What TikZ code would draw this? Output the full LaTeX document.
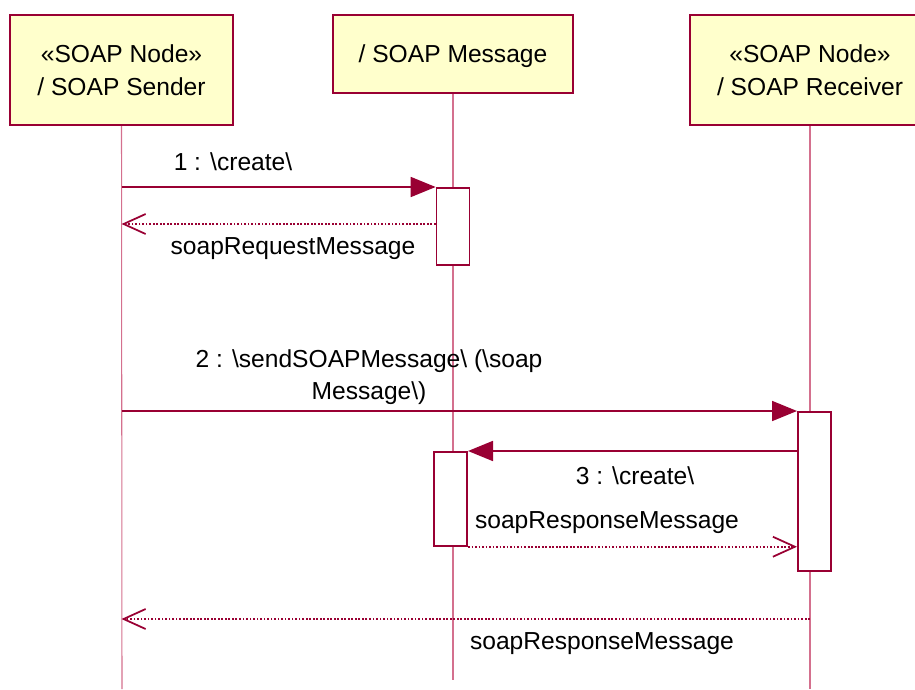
\documentclass[tikz,border=0pt]{standalone}
\usepackage{fontspec}
\setmainfont{Liberation Sans}
\usepackage{tikz}
\usetikzlibrary{arrows.meta,positioning}
\definecolor{umlred}{HTML}{990033}
\definecolor{umlfill}{HTML}{FFFFCC}
\definecolor{lifepink}{HTML}{D4708E}
\tikzset{
  objbox/.style={draw=umlred, line width=1.2pt, fill=umlfill, align=center,
                 font=\fontsize{14}{19}\selectfont, inner sep=0pt},
  actbox/.style={draw=umlred, line width=1pt, fill=white, minimum width=0.66cm, inner sep=0pt},
  lifeline/.style={draw=lifepink, line width=0.6pt},
  callmsg/.style={draw=umlred, line width=1pt, -{Triangle[length=0.5cm,width=0.4cm]}},
  retmsg/.style={draw=umlred, line width=1pt, dash pattern=on 1pt off 1pt,
                 -{Straight Barb[length=0.44cm,width=0.4cm]}},
  msglabel/.style={font=\fontsize{14}{18}\selectfont, align=center},
}

\begin{document}
\begin{tikzpicture}[x=0.02cm, y=-0.02cm]
    \useasboundingbox (0,0) rectangle (915,689);
    \node[objbox, minimum width=4.46cm, minimum height=2.2cm] (sender) at (121.5,70) {«SOAP Node»\\/ SOAP Sender};
    \node[objbox, minimum width=4.8cm, minimum height=1.56cm, text depth=0pt] (msg) at (453,54) {/ SOAP Message};
    \node[objbox, minimum width=4.8cm, minimum height=2.2cm] (recv) at (810,70) {«SOAP Node»\\/ SOAP Receiver};
    \coordinate (senderend) at (122,689);
    \coordinate (msgend) at (453,680);
    \coordinate (recvend) at (810,689);
    \foreach \n in {sender,msg,recv} { \draw[lifeline] (\n.south) -- (\n end); }
    \node[actbox, minimum height=1.54cm, anchor=north] (act1) at (msg.south |- 0,187) {};
    \node[actbox, minimum height=3.18cm, anchor=north west] (act2) at (797,411) {};
    \node[actbox, minimum height=1.88cm, anchor=north east] (act3) at (468,451) {};
    % create the request message
    \draw[callmsg] (sender.south |- act1.north) -- (act1.north west);
    \node[msglabel] (l1) at (233,162) {1 : \textbackslash create\textbackslash};
    \draw[retmsg] (act1.west |- 0,224) -- (sender.south |- 0,224);
    \node[msglabel] (l1r) at (293,249) {soapRequestMessage};
    % send it to the receiver
    \draw[callmsg] (sender.south |- act2.north) -- (act2.north west);
    \node[msglabel] (l2) at (369,377) {2 : \textbackslash sendSOAPMessage\textbackslash{} (\textbackslash soap\\Message\textbackslash)};
    \draw[callmsg] (act2.west |- act3.north) -- (act3.north east);
    \node[msglabel] (l3) at (635,476) {3 : \textbackslash create\textbackslash};
    \draw[retmsg] (act3.south east) -- (act2.west |- act3.south);
    \node[msglabel] (l3r) at (607,523) {soapResponseMessage};
    \draw[retmsg] (recv.south |- 0,619) -- (sender.south |- 0,619);
    \node[msglabel] (l4r) at (602,644) {soapResponseMessage};
  \end{tikzpicture}
\end{document}
